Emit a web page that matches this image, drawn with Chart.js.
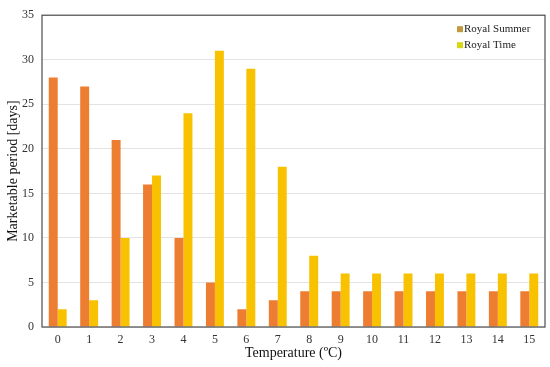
<!DOCTYPE html>
<html>
<head>
<meta charset="utf-8">
<script src="https://cdn.jsdelivr.net/npm/chart.js@4"></script>
<style>
  html, body { margin: 0; padding: 0; background: #fff; }
  #wrap { width: 550px; height: 367px; }
</style>
</head>
<body>
<div id="wrap"><canvas id="chart" width="550" height="367"></canvas></div>
<script>
const temps = ['0','1','2','3','4','5','6','7','8','9','10','11','12','13','14','15'];
const royalSummer = [28, 27, 21, 16, 10, 5, 2, 3, 4, 4, 4, 4, 4, 4, 4, 4];
const royalTime = [2, 3, 10, 17, 24, 31, 29, 18, 8, 6, 6, 6, 6, 6, 6, 6];
const seriesNames = ['Royal Summer', 'Royal Time'];

const FONT = '"Liberation Serif", "Times New Roman", serif';

// legend drawn inside the plot, top right + frame round the plot
const framePlugin = {
    id: 'frame',
    afterDraw(chart) {
        const ctx = chart.ctx;
        const a = chart.chartArea;
        ctx.save();
        ctx.strokeStyle = '#4d4d4d';
        ctx.lineWidth = 1.2;
        ctx.strokeRect(a.left, a.top, a.right - a.left, a.bottom - a.top);

        const swatches = ['#c09a3c', '#d9d612'];
        ctx.font = '11px ' + FONT;
        ctx.textBaseline = 'middle';
        seriesNames.forEach((name, i) => {
            const y = a.top + 14 + i * 16;
            const x = a.right - 88;
            ctx.fillStyle = swatches[i];
            ctx.fillRect(x, y - 3, 6, 6);
            ctx.fillStyle = '#222';
            ctx.fillText(name, x + 7, y);
        });
        ctx.restore();
    }
};

new Chart(document.getElementById('chart'), {
    type: 'bar',
    data: {
        labels: temps,
        datasets: [
            { label: seriesNames[0], data: royalSummer, backgroundColor: '#ed7d31' },
            { label: seriesNames[1], data: royalTime, backgroundColor: '#f9c200' }
        ]
    },
    options: {
        responsive: false,
        animation: false,
        layout: { padding: { top: 13, right: 5, left: 0, bottom: 0 } },
        datasets: { bar: { categoryPercentage: 0.57, barPercentage: 1.0 } },
        plugins: { legend: { display: false }, tooltip: { enabled: false } },
        scales: {
            x: {
                grid: { display: false, drawTicks: false },
                border: { display: false },
                ticks: { color: '#333', font: { family: FONT, size: 12 }, padding: 6, maxRotation: 0 },
                title: { display: true, text: 'Temperature (ºC)', color: '#111', font: { family: FONT, size: 14 }, padding: { top: 2, bottom: 5 } },
                afterFit(scale) { scale.height = 40; }
            },
            y: {
                min: 0, max: 35,
                grid: { color: '#e3e3e3', drawTicks: false },
                border: { display: false },
                ticks: { stepSize: 5, color: '#333', font: { family: FONT, size: 12 }, padding: 8 },
                title: { display: true, text: 'Marketable period [days]', color: '#111', font: { family: FONT, size: 14 }, padding: { top: 5, bottom: 0 } },
                afterFit(scale) { scale.width = 42; }
            }
        }
    },
    plugins: [framePlugin]
});
</script>
</body>
</html>
